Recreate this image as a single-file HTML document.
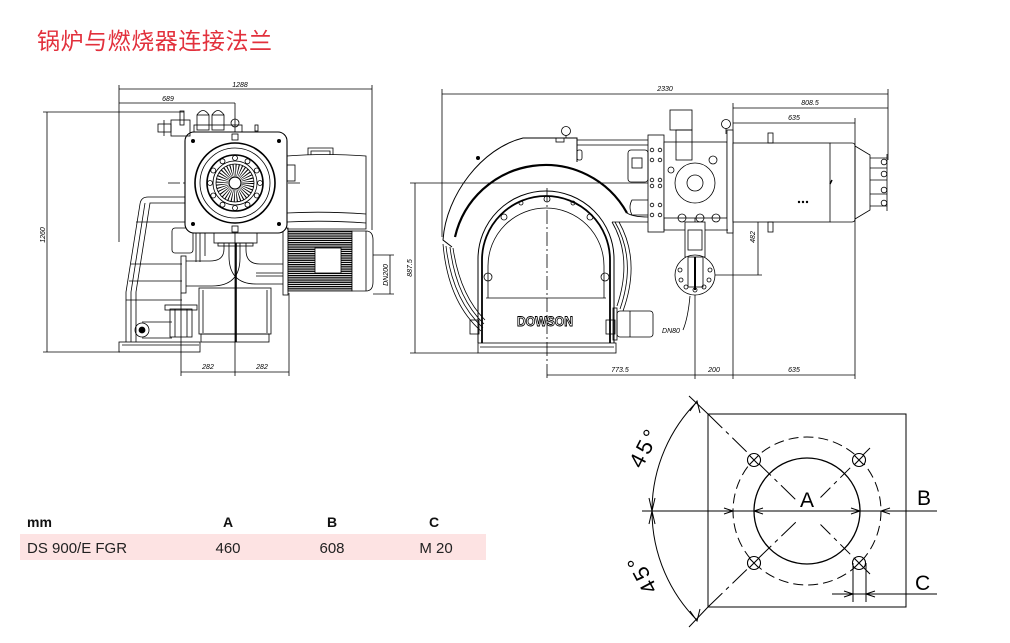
<!DOCTYPE html>
<html><head><meta charset="utf-8"><style>
html,body{margin:0;padding:0;background:#fff;}
svg{display:block;}
text{font-family:"Liberation Sans","Noto Sans CJK SC",sans-serif;}
</style></head><body>
<svg width="1010" height="643" viewBox="0 0 1010 643" xmlns="http://www.w3.org/2000/svg">
<defs>
<pattern id="hatch" width="4" height="2.2" patternUnits="userSpaceOnUse">
<rect width="4" height="2.2" fill="#fff"/><rect width="4" height="1.3" fill="#000"/>
</pattern>
</defs>
<rect width="1010" height="643" fill="#fff"/>

<!-- Title -->
<text x="37" y="49" font-size="23" fill="#e2303c" font-family="'Liberation Sans','Noto Sans CJK SC',sans-serif" textLength="235">锅炉与燃烧器连接法兰</text>

<!-- ================= LEFT VIEW ================= -->
<g stroke="#000" fill="none" stroke-width="0.8">
<line x1="119" y1="89" x2="372" y2="89"/>
<line x1="119" y1="103" x2="235" y2="103"/>
<line x1="119" y1="85" x2="119" y2="242"/>
<line x1="372" y1="85" x2="372" y2="230"/>
<line x1="47" y1="112" x2="47" y2="352"/>
<line x1="43" y1="112" x2="184" y2="112"/>
<line x1="43" y1="352" x2="120" y2="352"/>
<line x1="390" y1="255" x2="390" y2="294"/>
<line x1="366" y1="255" x2="394" y2="255"/>
<line x1="373" y1="294" x2="394" y2="294"/>
<line x1="181" y1="372" x2="289" y2="372"/>
<line x1="181" y1="293" x2="181" y2="376"/>
<line x1="289" y1="293" x2="289" y2="376"/>
<line x1="168" y1="183" x2="302" y2="183" stroke-dasharray="12 3 2 3"/>
<line x1="235" y1="103" x2="235" y2="376"/>
<line x1="236" y1="243" x2="236" y2="342" stroke-width="1.6"/>

<path d="M185 197 L148 197 Q141 197 140 204 L126 292 L126 342"/>
<path d="M185 203 L150 203 L136 292 L136 342"/>
<path d="M145 203 L131 292 L131 342"/>
<line x1="136" y1="222" x2="185" y2="222"/>
<line x1="131" y1="264" x2="182" y2="264"/>
<line x1="129" y1="281" x2="182" y2="281"/>
<line x1="126" y1="300" x2="182" y2="300"/>
<rect x="119" y="342" width="81" height="10"/>
<line x1="122" y1="345" x2="199" y2="345"/>
<circle cx="142" cy="330" r="7"/>
<circle cx="142" cy="330" r="3" fill="#000"/>
<path d="M142 322 L172 322 M142 338 L172 338"/>
<rect x="170" y="309" width="22" height="28"/>
<line x1="175" y1="309" x2="175" y2="337"/><line x1="187" y1="309" x2="187" y2="337"/>
<rect x="165" y="305" width="32" height="5"/>
<rect x="199" y="288" width="72" height="46"/>
<rect x="201" y="334" width="68" height="8"/>
<line x1="203" y1="290" x2="203" y2="333"/>
<line x1="267" y1="290" x2="267" y2="333"/>
<rect x="181" y="256" width="5" height="37"/>
<path d="M186 286 L212 286 Q240 286 240 258 L240 243"/>
<path d="M186 261 L210 261 Q224 261 224 249 L224 243"/>
<path d="M229 243 L229 256 Q229 284 256 284 L283 284"/>
<path d="M246 243 L246 250 Q246 264 260 264 L283 264"/>
<line x1="256" y1="273" x2="283" y2="273"/>
<line x1="256" y1="276" x2="283" y2="276"/>
<rect x="214" y="233" width="43" height="10"/>
<rect x="218" y="243" width="35" height="3"/>
<rect x="172" y="228" width="21" height="25" rx="3"/>
<line x1="196" y1="233" x2="196" y2="262"/>
<line x1="200" y1="233" x2="200" y2="262"/>
<line x1="205" y1="233" x2="205" y2="256"/>
<path d="M287 156 Q325 153 366 156 L366 229 L287 229"/>
<path d="M287 213 Q325 211 366 214"/>
<path d="M287 222 Q325 220 366 223"/>
<path d="M308 155 L308 148 L333 148 L333 155"/>
<path d="M311 155 L311 151 L330 151 L330 155"/>
<rect x="287" y="165" width="8" height="16"/>
<rect x="283" y="228" width="5" height="67"/>
<rect x="288" y="231" width="64" height="60" fill="url(#hatch)"/>
<rect x="315" y="248" width="26" height="25" fill="#fff"/>
<path d="M352 231 L366 231 Q373 231 373 240 L373 282 Q373 291 366 291 L352 291 Z" fill="#fff"/>
<line x1="366" y1="231" x2="366" y2="291"/>
<rect x="185" y="132" width="102" height="101" rx="9" fill="#fff" stroke-width="1.1"/>
<circle cx="235" cy="183" r="40" stroke-width="1.6"/>
<circle cx="235" cy="183" r="35"/>
<circle cx="235" cy="183" r="28" stroke-width="1.6"/>
<circle cx="235" cy="183" r="22"/>
<circle cx="235" cy="183" r="13" stroke-width="12" stroke-dasharray="0.8 1.47"/>
<circle cx="235" cy="183" r="19"/>
<circle cx="235" cy="183" r="6" fill="#fff" stroke-width="1.2"/>
<g fill="#000" stroke="none">
<circle cx="193" cy="141" r="2"/><circle cx="279" cy="141" r="2"/>
<circle cx="193" cy="224" r="2"/><circle cx="279" cy="224" r="2"/>
</g>
<g>
<circle cx="235" cy="158" r="2.5"/><circle cx="247.5" cy="161.3" r="2.5"/><circle cx="256.7" cy="170.5" r="2.5"/>
<circle cx="260" cy="183" r="2.5"/><circle cx="256.7" cy="195.5" r="2.5"/><circle cx="247.5" cy="204.7" r="2.5"/>
<circle cx="235" cy="208" r="2.5"/><circle cx="222.5" cy="204.7" r="2.5"/><circle cx="213.3" cy="195.5" r="2.5"/>
<circle cx="210" cy="183" r="2.5"/><circle cx="213.3" cy="170.5" r="2.5"/><circle cx="222.5" cy="161.3" r="2.5"/>
</g>
<rect x="232" y="134" width="6" height="6"/>
<rect x="232" y="226" width="6" height="6"/>
<rect x="197" y="115" width="12" height="15"/>
<path d="M197 115 Q203 106 209 115"/>
<rect x="212" y="115" width="12" height="15"/>
<path d="M212 115 Q218 106 224 115"/>
<rect x="194" y="125" width="48" height="7"/>
<rect x="180" y="111" width="4" height="14"/>
<rect x="171" y="120" width="19" height="16"/>
<rect x="158" y="124" width="13" height="8"/>
<line x1="164" y1="120" x2="164" y2="136"/>
<circle cx="235" cy="123" r="4"/>
<rect x="255" y="125" width="3" height="6"/>
</g>
<g font-size="7" font-style="italic" fill="#000">
<text x="240" y="87" text-anchor="middle">1288</text>
<text x="168" y="101" text-anchor="middle">689</text>
<text x="208" y="369" text-anchor="middle">282</text>
<text x="262" y="369" text-anchor="middle">282</text>
<text transform="translate(45,235) rotate(-90)" text-anchor="middle">1260</text>
<text transform="translate(388,275) rotate(-90)" text-anchor="middle">DN200</text>
</g>

<!-- ================= MIDDLE VIEW ================= -->
<g stroke="#000" fill="none" stroke-width="0.8">
<line x1="442" y1="94" x2="888" y2="94"/>
<line x1="733" y1="108" x2="888" y2="108"/>
<line x1="733" y1="123" x2="855" y2="123"/>
<line x1="442" y1="89" x2="442" y2="237"/>
<line x1="888" y1="89" x2="888" y2="160"/>
<line x1="733" y1="103" x2="733" y2="379"/>
<line x1="855" y1="118" x2="855" y2="379"/>
<line x1="415" y1="183" x2="415" y2="353"/>
<line x1="410" y1="183" x2="762" y2="183"/>
<line x1="410" y1="353" x2="478" y2="353"/>
<line x1="758" y1="183" x2="758" y2="275"/>
<line x1="706" y1="275" x2="762" y2="275"/>
<line x1="547" y1="375" x2="855" y2="375"/>
<line x1="547" y1="188" x2="547" y2="379" stroke-dasharray="14 3 2 3"/>
<line x1="695" y1="280" x2="695" y2="379"/>
<line x1="695" y1="160" x2="695" y2="290" stroke-dasharray="10 3 2 3"/>

<path d="M577 162 L577 138 L523 138 C482 148 446 195 443 240 L452 247" stroke-width="1"/>
<path d="M455 237 A93 93 0 0 1 627 213" stroke-width="2.2"/>
<path d="M627 213 Q633 217 648 217"/>
<path d="M577 140 L648 140 M577 145 L648 145"/>
<path d="M443 244 Q448 302 481 331"/>
<path d="M446 246 Q452 299 483 328"/>
<path d="M450 247 Q456 297 484 324"/>
<path d="M453 248 Q460 295 485 320"/>
<path d="M612 222 Q633 258 617 306"/>
<path d="M615 222 Q637 260 620 309"/>
<path d="M619 222 Q641 261 623 311"/>
<path d="M612 222 L648 222"/>
<circle cx="478" cy="158" r="1.6" fill="#000"/>
<rect x="577" y="150" width="5" height="10" rx="2"/>
<rect x="556" y="138" width="8" height="4"/>
<circle cx="566" cy="131" r="4.5"/>
<line x1="566" y1="135" x2="566" y2="138"/>
<circle cx="726" cy="124" r="4.5"/>
<line x1="726" y1="128" x2="726" y2="134"/>

<path d="M478 343 L478 259 A68 68 0 0 1 614 259 L614 343" stroke-width="1"/>
<path d="M482 343 L482 260 A64 64 0 0 1 610 260 L610 343" stroke-width="1.8"/>
<path d="M488 298 L488 266 A58 58 0 0 1 604 266 L604 298"/>
<line x1="486" y1="298" x2="606" y2="298"/>
<rect x="478" y="343" width="138" height="10"/>
<line x1="480" y1="347" x2="614" y2="347"/>
<circle cx="547" cy="199" r="3"/>
<circle cx="504" cy="217" r="3"/>
<circle cx="590" cy="217" r="3"/>
<circle cx="521" cy="203" r="2"/><circle cx="573" cy="203" r="2"/>
<circle cx="488" cy="277" r="4"/><circle cx="605" cy="277" r="4"/>
<rect x="470" y="320" width="9" height="14"/>
<rect x="613" y="308" width="4" height="32"/>
<rect x="617" y="311" width="36" height="26" rx="3"/>
<line x1="630" y1="311" x2="630" y2="337"/>
<rect x="606" y="320" width="9" height="14"/>

<rect x="648" y="135" width="16" height="97" fill="#fff"/>
<rect x="664" y="142" width="63" height="76" fill="#fff"/>
<rect x="727" y="130" width="6" height="103" fill="#fff"/>
<circle cx="695" cy="183" r="20" fill="#fff"/>
<circle cx="695" cy="183" r="8"/>
<circle cx="671" cy="170" r="3"/>
<circle cx="713" cy="160" r="4"/>
<rect x="670" y="110" width="22" height="20"/>
<rect x="676" y="130" width="16" height="30"/>
<rect x="628" y="150" width="20" height="32" rx="3"/>
<rect x="632" y="158" width="10" height="10"/>
<path d="M648 200 L632 200 Q628 207 632 215 L648 215"/>
<path d="M664 218 L664 230 L728 230"/>
<circle cx="682" cy="218" r="4"/><circle cx="700" cy="218" r="4"/><circle cx="716" cy="218" r="4"/>
<rect x="685" y="222" width="20" height="35" fill="#fff"/>
<rect x="688" y="230" width="14" height="20"/>
<circle cx="695" cy="275" r="20" fill="#fff"/>
<rect x="688" y="257" width="15" height="30" fill="#fff"/>
<line x1="695" y1="257" x2="695" y2="290" stroke-width="2"/>
<g>
<circle cx="680" cy="270" r="2"/><circle cx="681" cy="280" r="2"/><circle cx="686" cy="287" r="2"/>
<circle cx="695" cy="290" r="2"/><circle cx="704" cy="287" r="2"/><circle cx="709" cy="280" r="2"/>
<circle cx="710" cy="270" r="2"/>
</g>
<g>
<circle cx="652" cy="150" r="1.8"/><circle cx="660" cy="150" r="1.8"/>
<circle cx="652" cy="160" r="1.8"/><circle cx="660" cy="160" r="1.8"/>
<circle cx="652" cy="180" r="1.8"/><circle cx="660" cy="180" r="1.8"/>
<circle cx="652" cy="186" r="1.8"/><circle cx="660" cy="186" r="1.8"/>
<circle cx="652" cy="205" r="1.8"/><circle cx="660" cy="205" r="1.8"/>
<circle cx="652" cy="215" r="1.8"/><circle cx="660" cy="215" r="1.8"/>
</g>
<path d="M683 330 Q688 318 690 296"/>

<rect x="733" y="143" width="97" height="79" fill="#fff"/>
<path d="M830 143 L852 143 Q855 143 855 146 L855 219 Q855 222 852 222 L830 222"/>
<path d="M855 146 L870 155 L870 210 L855 219"/>
<line x1="870" y1="158" x2="887" y2="158"/>
<line x1="870" y1="168" x2="887" y2="168"/>
<line x1="870" y1="180" x2="887" y2="180"/>
<line x1="870" y1="194" x2="887" y2="194"/>
<line x1="870" y1="206" x2="887" y2="206"/>
<line x1="887" y1="154" x2="887" y2="211"/>
<circle cx="884" cy="162" r="2.8"/><circle cx="884" cy="174" r="2.8"/>
<circle cx="884" cy="190" r="2.8"/><circle cx="884" cy="203" r="2.8"/>
<rect x="768" y="133" width="5" height="10"/>
<rect x="768" y="222" width="5" height="10"/>
<line x1="832" y1="180" x2="830" y2="184" stroke-width="1.5"/>
</g>
<g fill="#000"><circle cx="799" cy="202" r="1.2"/><circle cx="803" cy="202" r="1.2"/><circle cx="807" cy="202" r="1.2"/></g>
<text x="545" y="326" font-size="14" font-weight="bold" text-anchor="middle" fill="#fff" stroke="#000" stroke-width="0.9" textLength="56" lengthAdjust="spacingAndGlyphs">DOWSON</text>
<g font-size="7" font-style="italic" fill="#000">
<text x="665" y="91" text-anchor="middle">2330</text>
<text x="810" y="105" text-anchor="middle">808.5</text>
<text x="794" y="120" text-anchor="middle">635</text>
<text x="620" y="372" text-anchor="middle">773.5</text>
<text x="714" y="372" text-anchor="middle">200</text>
<text x="794" y="372" text-anchor="middle">635</text>
<text x="671" y="333" text-anchor="middle">DN80</text>
<text transform="translate(412,268) rotate(-90)" text-anchor="middle">887.5</text>
<text transform="translate(755,237) rotate(-90)" text-anchor="middle">482</text>
</g>

<!-- ================= FLANGE VIEW ================= -->
<g stroke="#000" fill="none" stroke-width="1">
<rect x="708" y="414" width="198" height="193"/>
<circle cx="807" cy="511" r="53" stroke-width="1.3"/>
<circle cx="807" cy="511" r="74" stroke-dasharray="10 5"/>
<line x1="642" y1="511" x2="937" y2="511"/>
<path d="M689 396 L708 414"/>
<path d="M708 414 L796 500" stroke-dasharray="20 5 4 5"/>
<path d="M689 627 L708 607"/>
<path d="M708 607 L796 522" stroke-dasharray="20 5 4 5"/>
<path d="M870 448 L818 500" stroke-dasharray="14 5 4 5"/>
<path d="M870 574 L818 522" stroke-dasharray="14 5 4 5"/>
<path d="M697.4 401.4 A155 155 0 0 0 697.4 620.6"/>
<path d="M690 411 L697 401 L700 413"/>
<path d="M690 611 L697 621 L700 609"/>
<path d="M649 498 L652 511 L655 498"/>
<path d="M649 524 L652 511 L655 524"/>
<path d="M763 508 L754 511 L763 514"/>
<path d="M851 508 L860 511 L851 514"/>
<path d="M724 508 L733 511 L724 514"/>
<path d="M890 508 L881 511 L890 514"/>
<g stroke-width="1.1">
<circle cx="754" cy="460" r="6.5" fill="#fff"/><path d="M749.4 455.4 L758.6 464.6 M758.6 455.4 L749.4 464.6"/>
<circle cx="859" cy="460" r="6.5" fill="#fff"/><path d="M854.4 455.4 L863.6 464.6 M863.6 455.4 L854.4 464.6"/>
<circle cx="754" cy="563" r="6.5" fill="#fff"/><path d="M749.4 558.4 L758.6 567.6 M758.6 558.4 L749.4 567.6"/>
<circle cx="859" cy="563" r="6.5" fill="#fff"/><path d="M854.4 558.4 L863.6 567.6 M863.6 558.4 L854.4 567.6"/>
</g>
<line x1="853" y1="563" x2="853" y2="602"/>
<line x1="866" y1="563" x2="866" y2="602"/>
<line x1="832" y1="594" x2="937" y2="594"/>
<path d="M844 591 L853 594 L844 597"/>
<path d="M875 591 L866 594 L875 597"/>
</g>
<rect x="797" y="488" width="20" height="20" fill="#fff"/>
<g font-size="21" fill="#000" font-family="'Liberation Sans',sans-serif">
<text x="807" y="507" text-anchor="middle">A</text>
<text x="917" y="505">B</text>
<text x="915" y="590">C</text>
<text transform="translate(646,448) rotate(-63)" text-anchor="middle" dominant-baseline="middle" font-size="22" letter-spacing="3">45°</text>
<text transform="translate(643,573) rotate(-118)" text-anchor="middle" dominant-baseline="middle" font-size="22" letter-spacing="3">45°</text>
</g>

<!-- ================= TABLE ================= -->
<rect x="20" y="534" width="466" height="26" fill="#fde3e3"/>
<g font-size="14" font-weight="bold" fill="#111">
<text x="27" y="527">mm</text>
<text x="228" y="527" text-anchor="middle">A</text>
<text x="332" y="527" text-anchor="middle">B</text>
<text x="434" y="527" text-anchor="middle">C</text>
</g>
<g font-size="15" fill="#222">
<text x="27" y="553">DS 900/E FGR</text>
<text x="228" y="553" text-anchor="middle">460</text>
<text x="332" y="553" text-anchor="middle">608</text>
<text x="436" y="553" text-anchor="middle">M 20</text>
</g>
</svg>
</body></html>
